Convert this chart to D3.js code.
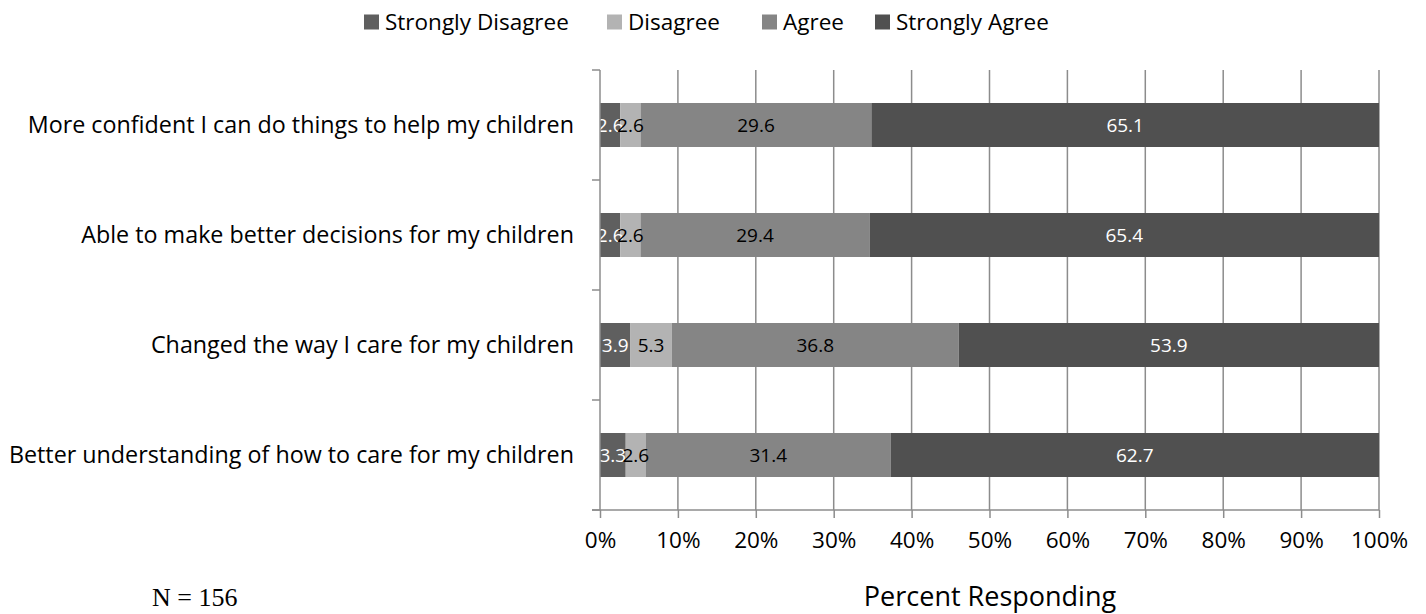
<!DOCTYPE html>
<html>
<head>
<meta charset="utf-8">
<script src="https://cdn.jsdelivr.net/npm/d3@7"></script>
<style>
  body { margin: 0; background: #fff; }
  svg { display: block; }
</style>
</head>
<body>
<div id="chart"></div>
<script>
// categories, top to bottom
const questions = [
  "More confident I can do things to help my children",
  "Able to make better decisions for my children",
  "Changed the way I care for my children",
  "Better understanding of how to care for my children"
];
const responses = ["Strongly Disagree", "Disagree", "Agree", "Strongly Agree"];
const stronglyDisagree = [2.6, 2.6, 3.9, 3.3];
const disagree = [2.6, 2.6, 5.3, 2.6];
const agree = [29.6, 29.4, 36.8, 31.4];
const stronglyAgree = [65.1, 65.4, 53.9, 62.7];
const xTicks = [0, 0.1, 0.2, 0.3, 0.4, 0.5, 0.6, 0.7, 0.8, 0.9, 1];

const colors = ["#5f5f5f", "#b3b3b3", "#858585", "#505050"];
const labelColors = ["#fff", "#000", "#000", "#fff"];

const width = 1426, height = 614;
const margin = { top: 70, right: 47, bottom: 104, left: 600 };
const innerW = width - margin.left - margin.right;
const innerH = height - margin.top - margin.bottom;

const rows = questions.map((q, i) => ({
  question: q,
  "Strongly Disagree": stronglyDisagree[i],
  "Disagree": disagree[i],
  "Agree": agree[i],
  "Strongly Agree": stronglyAgree[i]
}));

const series = d3.stack()
  .keys(responses)
  .offset(d3.stackOffsetExpand)(rows);

const x = d3.scaleLinear().domain([0, 1]).range([0, innerW]);
const y = d3.scaleBand().domain(questions).range([0, innerH]).paddingInner(0.6).paddingOuter(0.3);

const svg = d3.select("#chart").append("svg")
  .attr("width", width)
  .attr("height", height)
  .style("font-family", "'Open Sans', sans-serif");

const g = svg.append("g")
  .attr("transform", `translate(${margin.left},${margin.top})`);

// gridlines
g.append("g")
  .selectAll("line")
  .data(xTicks.slice(1))
  .join("line")
    .attr("x1", d => x(d)).attr("x2", d => x(d))
    .attr("y1", 0).attr("y2", innerH)
    .attr("stroke", "#8c8c8c")
    .attr("stroke-width", 1.5);

// bars
const layer = g.append("g")
  .selectAll("g")
  .data(series)
  .join("g")
    .attr("fill", (d, i) => colors[i]);

layer.selectAll("rect")
  .data(d => d.map(v => Object.assign(v, { key: d.key })))
  .join("rect")
    .attr("x", d => x(d[0]))
    .attr("y", d => y(d.data.question))
    .attr("width", d => x(d[1]) - x(d[0]))
    .attr("height", y.bandwidth());

// value labels
g.append("g")
  .selectAll("g")
  .data(series)
  .join("g")
    .attr("fill", (d, i) => labelColors[i])
  .selectAll("text")
  .data(d => d)
  .join("text")
    .attr("x", d => (x(d[0]) + x(d[1])) / 2)
    .attr("y", d => y(d.data.question) + y.bandwidth() / 2)
    .attr("dy", "0.35em")
    .attr("text-anchor", "middle")
    .style("font-size", "19px")
    .text(d => d.data[d.key].toFixed(1));

// x axis
const xAxis = g.append("g")
  .attr("transform", `translate(0,${innerH})`)
  .call(d3.axisBottom(x).tickValues(xTicks).tickFormat(d3.format(".0%")).tickSize(8).tickSizeOuter(0).tickPadding(14));
xAxis.select(".domain").attr("stroke", "#8c8c8c").attr("stroke-width", 1.5)
  .attr("d", `M-8,0H${innerW}`);
xAxis.selectAll(".tick line").attr("stroke", "#8c8c8c").attr("stroke-width", 1.5);
xAxis.selectAll(".tick text").style("font-size", "22.5px").attr("fill", "#000")
  .style("font-family", "'Open Sans', sans-serif");

// y axis: ticks at category boundaries
const bounds = questions.map(q => y(q) - y.step() * y.paddingInner() / 2).concat([innerH]);
g.append("line")
  .attr("x1", 0).attr("x2", 0).attr("y1", 0).attr("y2", innerH)
  .attr("stroke", "#8c8c8c").attr("stroke-width", 1.5);
g.append("g")
  .selectAll("line")
  .data(bounds.map(b => Math.max(0, b)))
  .join("line")
    .attr("x1", -8).attr("x2", 0)
    .attr("y1", d => d).attr("y2", d => d)
    .attr("stroke", "#8c8c8c").attr("stroke-width", 1.5);

g.append("g")
  .selectAll("text")
  .data(questions)
  .join("text")
    .attr("x", -26)
    .attr("y", d => y(d) + y.bandwidth() / 2)
    .attr("dy", "0.35em")
    .attr("text-anchor", "end")
    .style("font-size", "23.3px")
    .text(d => d);

// legend
const legendX = [364, 607, 762, 875];
const legend = svg.append("g").selectAll("g")
  .data(responses)
  .join("g")
    .attr("transform", (d, i) => `translate(${legendX[i]},22)`);
legend.append("rect")
  .attr("x", 0).attr("y", -7.5).attr("width", 15).attr("height", 15)
  .attr("fill", (d, i) => colors[i]);
legend.append("text")
  .attr("x", 21).attr("dy", "0.35em")
  .style("font-size", "22.5px")
  .text(d => d);

// axis title and note
svg.append("text")
  .attr("x", 990).attr("y", 597)
  .attr("dy", "0.35em")
  .attr("text-anchor", "middle")
  .style("font-size", "27px")
  .text("Percent Responding");

svg.append("text")
  .attr("x", 152).attr("y", 597)
  .attr("dy", "0.35em")
  .style("font-family", "'Liberation Serif', serif")
  .style("font-size", "26px")
  .text("N = 156");
</script>
</body>
</html>
